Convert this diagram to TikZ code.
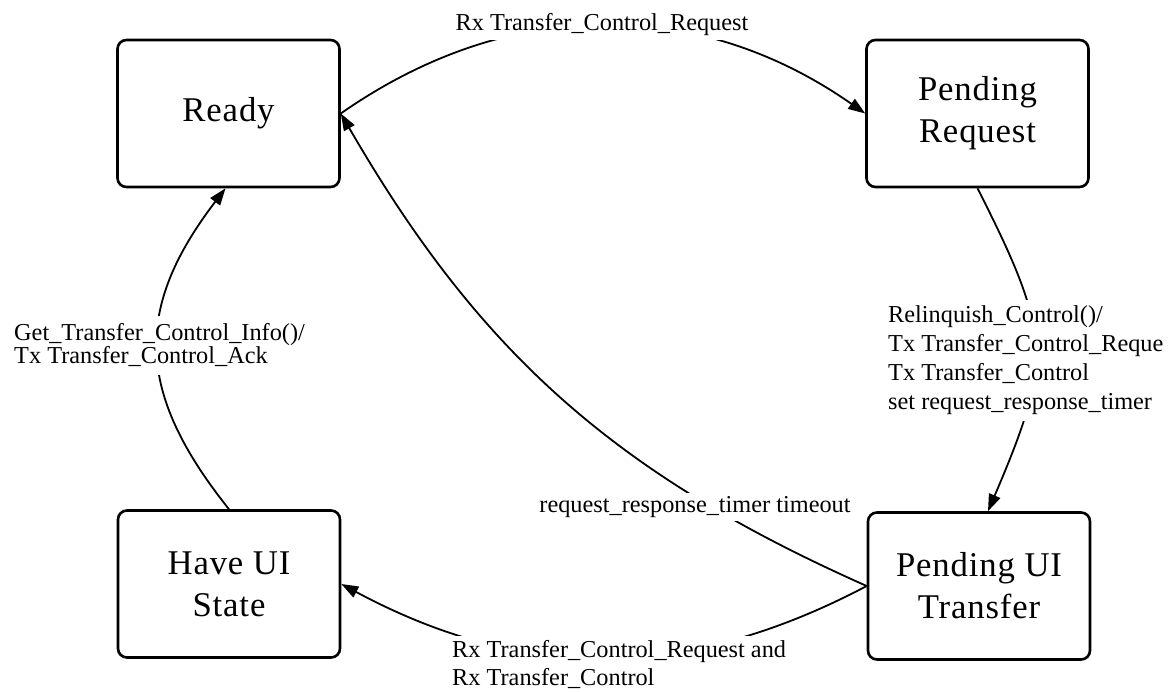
\documentclass[tikz,border=0pt]{standalone}
\usepackage{fontspec}
\setmainfont{Liberation Serif}
\usetikzlibrary{arrows.meta}

\begin{document}
\begin{tikzpicture}[x=1pt,y=1pt,
  state/.style={draw, line width=2.6pt, rounded corners=9pt,
    minimum width=222pt, minimum height=147pt, inner sep=0pt, align=center,
    font=\fontsize{34.7}{42}\selectfont\addfontfeatures{LetterSpace=2.5}},
  trans/.style={line width=1.8pt, -{Triangle[length=17pt,width=12pt]}},
  cond/.style={fill=white, inner sep=4pt, align=left,
    font=\fontsize{24.3}{28}\selectfont}]
\useasboundingbox (0,0) rectangle (1169,-691);

% states
\node[state] (ready) at (228.5,-113.5) {Ready};
\node[state] (pr)    at (977.5,-113.5) {Pending\\Request};
\node[state] (hui)   at (229,-584)     {Have UI\\State};
\node[state] (put)   at (979,-586)     {Pending UI\\Transfer};

% transitions
\draw[trans] (ready.east) to[bend left=35] (pr.west);
\draw[trans] (pr.south) to[bend left=25, looseness=1.3] ([xshift=9pt]put.north);
\draw[trans] (put.west) to[bend left=18] (ready.east);
\draw[trans] (put.west) to[bend left=28] (hui.east);
\draw[trans] (hui.north) to[bend left=38, looseness=1.2] ([xshift=-3pt]ready.south);

% transition labels
\node[cond] (lblreq) at (602,-25) {Rx Transfer\_Control\_Request};
\node[cond, anchor=west, inner ysep=6pt, font=\fontsize{24.3}{29}\selectfont]
  (lblrel) at (884,-360.5)
  {Relinquish\_Control()/\\Tx Transfer\_Control\_Reque\\Tx Transfer\_Control\\set request\_response\_timer};
\node[cond, anchor=west, inner ysep=8pt, font=\fontsize{24.3}{23}\selectfont]
  (lblget) at (10,-345.5)
  {Get\_Transfer\_Control\_Info()/\\Tx Transfer\_Control\_Ack};
\node[cond, inner sep=3pt] (lbltmo) at (695,-507) {request\_response\_timer timeout};
\node[cond, anchor=west] (lblrx) at (448,-664)
  {Rx Transfer\_Control\_Request and\\Rx Transfer\_Control};
\end{tikzpicture}
\end{document}
